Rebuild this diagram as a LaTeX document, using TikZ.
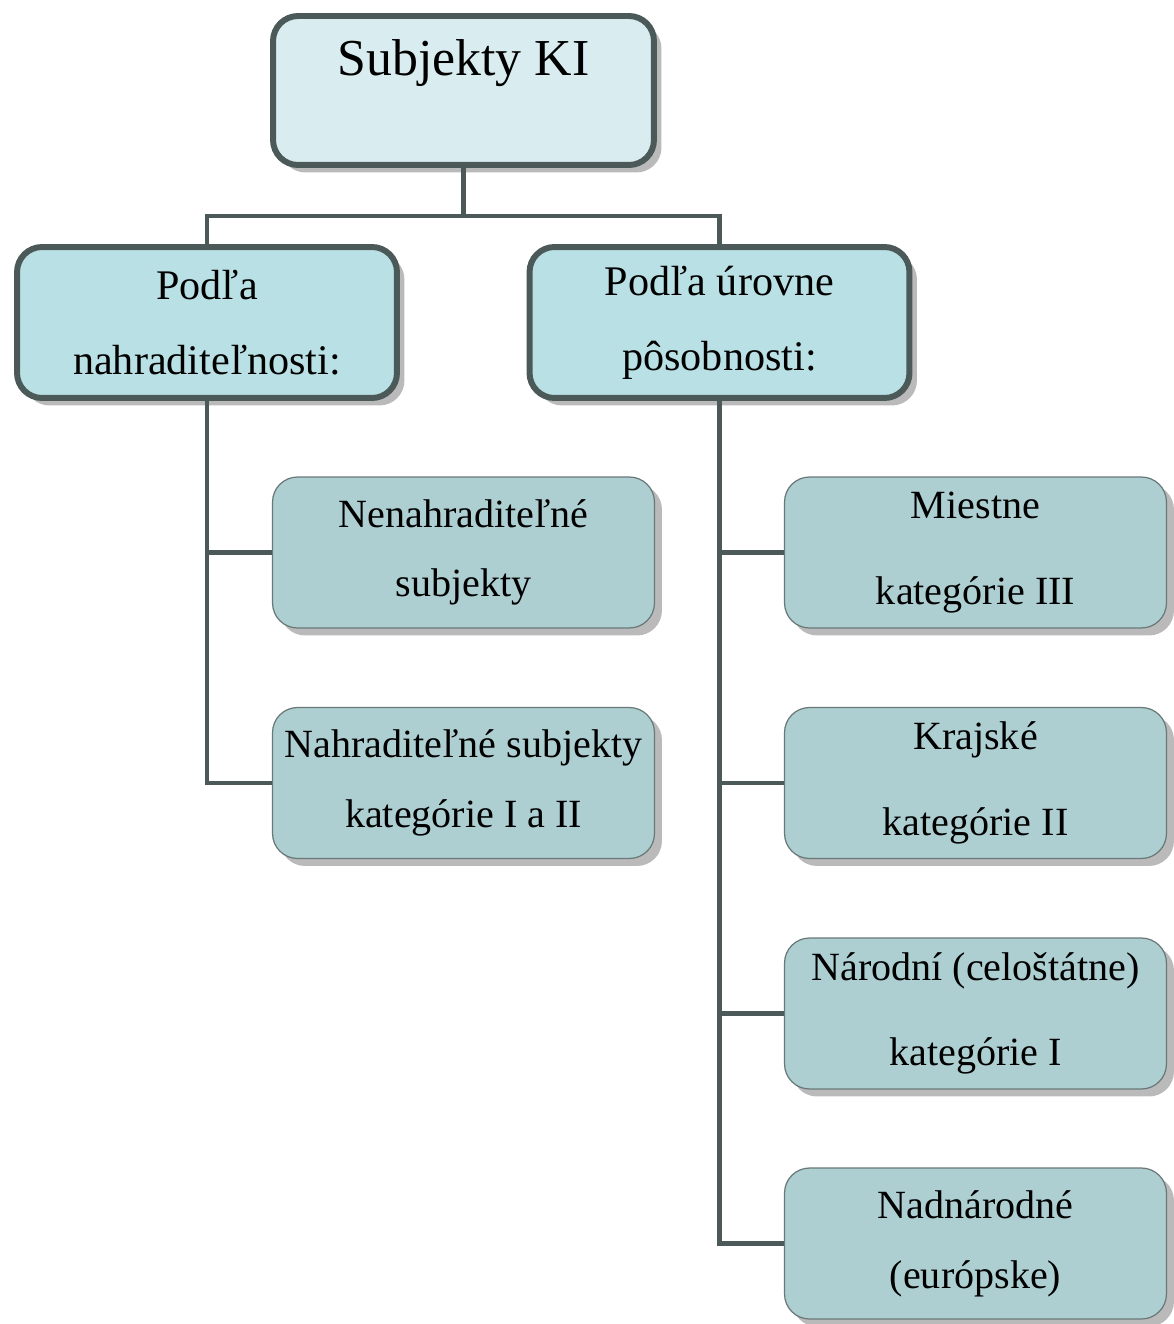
\documentclass[tikz,border=0pt]{standalone}
\usepackage{fontspec}
\setmainfont{Liberation Serif}
\usetikzlibrary{shadows}

\definecolor{kiline}{HTML}{4B5959}
\definecolor{kitop}{HTML}{D9EDF0}
\definecolor{kimid}{HTML}{B9E0E4}
\definecolor{kilow}{HTML}{ADCFD2}
\definecolor{kiedge}{HTML}{6A7878}

\tikzset{
	kishadow/.style={drop shadow={shadow xshift=0.15cm, shadow yshift=-0.15cm, fill=black!27, opacity=1}},
	kibox/.style={draw=kiline, rounded corners=0.5cm, align=center, inner sep=0pt, kishadow},
	kitopbox/.style={kibox, line width=3.4pt, fill=kitop, minimum width=7.62cm, minimum height=2.98cm,
		font=\fontsize{29.5}{38}\selectfont},
	kimidbox/.style={kibox, line width=3.4pt, fill=kimid, minimum width=7.6cm, minimum height=3.02cm,
		font=\fontsize{24}{42.5}\selectfont},
	kilowbox/.style={kibox, draw=kiedge, line width=0.7pt, fill=kilow, minimum width=7.64cm, minimum height=3.02cm,
		font=\fontsize{22.8}{39.7}\selectfont},
	kiwidebox/.style={kilowbox, font=\fontsize{22.8}{48.8}\selectfont},
	kilink/.style={draw=kiline, line width=2.8pt}
}

\begin{document}
\begin{tikzpicture}[x=0.02cm, y=-0.02cm]
\useasboundingbox (0,0) rectangle (1173,1324);

\pgfmathsetmacro{\kiColA}{207}
\pgfmathsetmacro{\kiColB}{463.5}
\pgfmathsetmacro{\kiColC}{719.5}
\pgfmathsetmacro{\kiColD}{975.5}
\pgfmathsetmacro{\kiRowA}{552.5}
\pgfmathsetmacro{\kiRowB}{783}
\pgfmathsetmacro{\kiRowC}{1013.5}
\pgfmathsetmacro{\kiRowD}{1243.5}

\node[kitopbox] (top) at (\kiColB, 90.5) {Subjekty KI\\ \mbox{}};

\node[kimidbox] (nahr) at (\kiColA, 322.5) {Podľa\\nahraditeľnosti:};
\node[kimidbox] (urov) at (\kiColC, 322.5) {Podľa úrovne\\pôsobnosti:};

\node[kilowbox] (nenahr) at (\kiColB, \kiRowA) {Nenahraditeľné\\subjekty};
\node[kilowbox] (nahrad) at (\kiColB, \kiRowB) {Nahraditeľné subjekty\\kategórie I a II};

\node[kiwidebox] (miest) at (\kiColD, \kiRowA) {Miestne\\kategórie III};
\node[kiwidebox] (kraj) at (\kiColD, \kiRowB) {Krajské\\kategórie II};
\node[kiwidebox] (narod) at (\kiColD, \kiRowC) {Národní (celoštátne)\\kategórie I};
\node[kilowbox] (nadnar) at (\kiColD, \kiRowD) {Nadnárodné\\(európske)};

\coordinate (bus) at (\kiColB, 216);

\draw[kilink] (top) -- (bus);
\draw[kilink] (nahr.north) |- (bus) -| (urov.north);

\draw[kilink] (nahr.south) |- (nenahr.west);
\draw[kilink] (nahr.south) |- (nahrad.west);

\draw[kilink] (urov.south) |- (miest.west);
\draw[kilink] (urov.south) |- (kraj.west);
\draw[kilink] (urov.south) |- (narod.west);
\draw[kilink] (urov.south) |- (nadnar.west);
\end{tikzpicture}
\end{document}
